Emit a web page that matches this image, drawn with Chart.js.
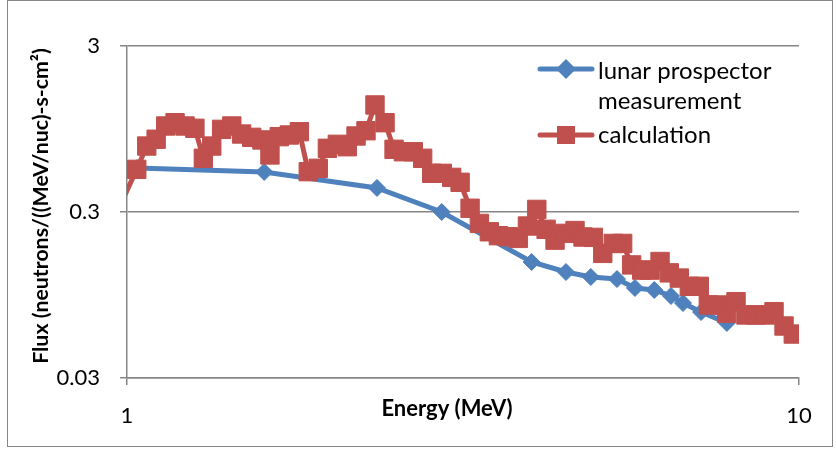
<!DOCTYPE html>
<html><head><meta charset="utf-8">
<script src="https://cdn.jsdelivr.net/npm/chart.js@4.4.1/dist/chart.umd.min.js"></script>
<style>html,body{margin:0;padding:0;background:#fff;}canvas{display:block;}</style>
</head><body>
<canvas id="c" width="836" height="449" style="width:836px;height:449px"></canvas>
<script>
// ---- data ----
const xTicks = [1, 10];
const yTicks = [0.03, 0.3, 3];

const measName = ['lunar prospector', 'measurement'];
const measEnergy = [1.035, 1.60, 2.355, 2.94, 4.0, 4.5, 4.9, 5.36, 5.70, 6.09, 6.45, 6.72, 7.15, 7.81];
const measFlux   = [0.552, 0.523, 0.419, 0.300, 0.150, 0.1305, 0.1218, 0.1184, 0.1046, 0.1017, 0.0936, 0.0849, 0.0749, 0.0644];

const calcName = ['calculation'];
const calcEnergy = [0.950, 1.034, 1.070, 1.105, 1.142, 1.179, 1.220, 1.262, 1.299, 1.337, 1.383, 1.432, 1.481, 1.533, 1.588, 1.632, 1.685, 1.744, 1.805, 1.861, 1.926, 1.987, 2.056, 2.127, 2.192, 2.268, 2.339, 2.421, 2.497, 2.578, 2.667, 2.754, 2.841, 2.946, 3.042, 3.131, 3.240, 3.345, 3.461, 3.570, 3.694, 3.823, 3.943, 4.072, 4.204, 4.335, 4.486, 4.642, 4.771, 4.943, 5.105, 5.292, 5.465, 5.636, 5.834, 6.003, 6.212, 6.412, 6.636, 6.867, 7.106, 7.329, 7.585, 7.805, 8.059, 8.339, 8.630, 8.901, 9.180, 9.500, 9.806];
const calcFlux   = [0.258, 0.542, 0.749, 0.823, 0.989, 1.035, 0.989, 0.958, 0.632, 0.749, 0.944, 0.989, 0.885, 0.845, 0.815, 0.662, 0.853, 0.873, 0.914, 0.525, 0.550, 0.726, 0.767, 0.742, 0.861, 0.926, 1.324, 1.035, 0.716, 0.692, 0.692, 0.632, 0.513, 0.513, 0.485, 0.453, 0.316, 0.256, 0.228, 0.216, 0.213, 0.208, 0.247, 0.311, 0.236, 0.203, 0.223, 0.232, 0.212, 0.211, 0.169, 0.194, 0.194, 0.144, 0.134, 0.134, 0.151, 0.129, 0.120, 0.107, 0.107, 0.0826, 0.0826, 0.0736, 0.0865, 0.0719, 0.0719, 0.0719, 0.0753, 0.0617, 0.0552];

const xTitle = 'Energy (MeV)';
const yTitle = 'Flux (neutrons/((MeV/nuc)-s-cm²)';

// ---- styles ----
const BLUE = '#4F81BD';
const RED = '#C0504D';
const GRID = '#868686';
const FONT = 'Lato';

const toPoints = (xs, ys) => xs.map((x, i) => ({x: x, y: ys[i]}));

const frame = {
  id: 'frame',
  beforeDraw(chart) {
    const c = chart.ctx;
    c.save();
    c.fillStyle = '#fff';
    c.fillRect(0, 0, chart.width, chart.height);
    c.restore();
  },
  afterDraw(chart) {
    const c = chart.ctx;
    c.save();
    c.strokeStyle = GRID;
    c.lineWidth = 1;
    c.strokeRect(7.5, 0.5, 825, 446);
    // axis titles
    c.fillStyle = '#000';
    c.textAlign = 'center';
    c.textBaseline = 'middle';
    c.font = 'bold 22px ' + FONT;
    c.fillText(xTitle, 447, 409);
    c.translate(41, 206);
    c.rotate(-Math.PI / 2);
    c.font = 'bold 21.3px ' + FONT;
    c.fillText(yTitle, 0, 0);
    c.restore();
  }
};

const legend = {
  id: 'customLegend',
  afterDraw(chart) {
    const c = chart.ctx;
    const ds = chart.data.datasets;
    c.save();
    c.lineCap = 'round';
    // measurement
    c.strokeStyle = ds[1].borderColor; c.lineWidth = 5;
    c.beginPath(); c.moveTo(540, 69); c.lineTo(592, 69); c.stroke();
    c.fillStyle = ds[1].pointBackgroundColor;
    c.beginPath(); c.moveTo(556, 69); c.lineTo(566, 59); c.lineTo(576, 69); c.lineTo(566, 79); c.closePath(); c.fill();
    // calculation
    c.strokeStyle = ds[0].borderColor;
    c.beginPath(); c.moveTo(540, 135); c.lineTo(592, 135); c.stroke();
    c.fillStyle = ds[0].pointBackgroundColor;
    c.fillRect(557, 126, 18, 18);
    c.fillStyle = '#000';
    c.font = '24px ' + FONT;
    c.textBaseline = 'middle';
    c.textAlign = 'left';
    c.fillText(measName[0], 598, 71);
    c.fillText(measName[1], 598, 101);
    c.fillText(calcName[0], 598, 135);
    c.restore();
  }
};

new Chart(document.getElementById('c'), {
  type: 'line',
  data: {
    datasets: [
      {
        label: calcName.join(' '),
        data: toPoints(calcEnergy, calcFlux),
        borderColor: RED, backgroundColor: RED,
        pointBackgroundColor: RED, pointBorderColor: RED,
        pointStyle: 'rect', pointRadius: 13, pointBorderWidth: 1,
        borderWidth: 5, tension: 0, order: 1
      },
      {
        label: measName.join(' '),
        data: toPoints(measEnergy, measFlux),
        borderColor: BLUE, backgroundColor: BLUE,
        pointBackgroundColor: BLUE, pointBorderColor: BLUE,
        pointStyle: 'rectRot', pointRadius: 8.5, pointBorderWidth: 1,
        borderWidth: 5, tension: 0, order: 2
      }
    ]
  },
  options: {
    responsive: false,
    animation: false,
    devicePixelRatio: 1,
    layout: { padding: { left: 0, top: 46, right: 37, bottom: 0 } },
    plugins: { legend: { display: false }, tooltip: { enabled: false } },
    scales: {
      x: {
        type: 'logarithmic', min: 1, max: 10,
        afterBuildTicks: s => { s.ticks = xTicks.map(v => ({value: v})); },
        afterFit: s => { s.height = 71; },
        grid: { drawOnChartArea: false, drawTicks: true, tickLength: 7, color: GRID, lineWidth: 1.5 },
        border: { display: true, color: GRID, width: 1.5 },
        ticks: { color: '#000', font: { family: FONT, size: 22 }, padding: 18, maxRotation: 0, autoSkip: false,
                 callback: v => String(v) },
        title: { display: false, text: xTitle }
      },
      y: {
        type: 'logarithmic', min: 0.03, max: 3,
        afterBuildTicks: s => { s.ticks = yTicks.map(v => ({value: v})); },
        afterFit: s => { s.width = 127; },
        grid: { drawOnChartArea: true, drawTicks: true, tickLength: 7, color: GRID, lineWidth: 1.5 },
        border: { display: true, color: GRID, width: 1.5 },
        ticks: { color: '#000', font: { family: FONT, size: 22 }, padding: 20, autoSkip: false,
                 callback: v => String(v) },
        title: { display: false, text: yTitle }
      }
    }
  },
  plugins: [frame, legend]
});
</script>
</body></html>
